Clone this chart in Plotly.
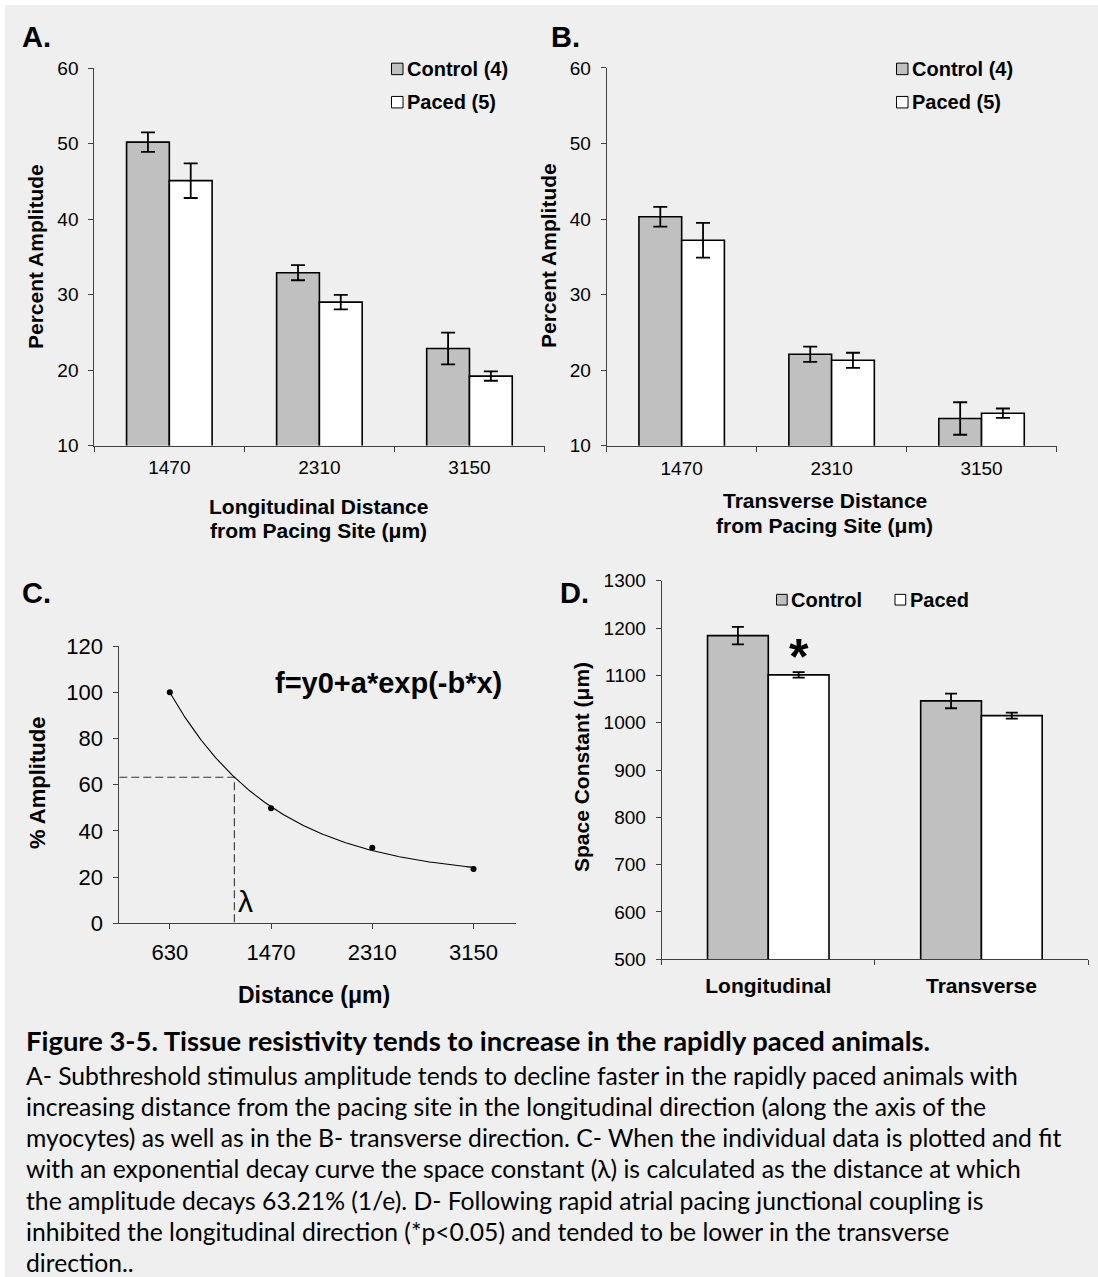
import numpy as np
import plotly.graph_objects as go

W, H = 1098, 1277

# ---- Panel A: longitudinal distance from pacing site ----
distances = ["1470", "2310", "3150"]
long_control = [50.2, 32.9, 22.85]
long_control_err = [1.3, 1.0, 2.1]
long_paced = [45.1, 29.0, 19.2]
long_paced_err = [2.3, 0.95, 0.62]

# ---- Panel B: transverse distance from pacing site ----
trans_control = [40.3, 22.1, 13.6]
trans_control_err = [1.3, 1.0, 2.15]
trans_paced = [37.2, 21.3, 14.3]
trans_paced_err = [2.3, 1.0, 0.62]

# ---- Panel C: individual decay data ----
decay_x = [630, 1470, 2310, 3150]
decay_y = [100, 49.8, 32.7, 23.5]
LAMBDA_LEVEL = 63.21

# ---- Panel D: space constants ----
directions = ["Longitudinal", "Transverse"]
space_control = [1184, 1046]
space_control_err = [18.5, 15.5]
space_paced = [1101, 1015]
space_paced_err = [6, 6.3]

GRAY = "#c0c0c0"
AXIS = "#404040"
SANS = "Liberation Sans"
CAPTION_FONT = "Lato"


def fx(p):
    return p / W


def fy(p):
    return 1 - p / H


# exponential decay fit f = y0 + a*exp(-b*x): scan b, solve y0/a by least squares
xd = np.array(decay_x, float)
yd = np.array(decay_y, float)
best = None
for b in np.linspace(1e-4, 5e-3, 9801):
    M = np.column_stack([np.ones_like(xd), np.exp(-b * xd)])
    coef, *_ = np.linalg.lstsq(M, yd, rcond=None)
    sse = float(np.sum((M @ coef - yd) ** 2))
    if best is None or sse < best[0]:
        best = (sse, b, coef)
_, b_fit, (y0_fit, a_fit) = best
lam = -np.log((LAMBDA_LEVEL - y0_fit) / a_fit) / b_fit
fit_x = np.linspace(decay_x[0], decay_x[-1], 300)
fit_y = y0_fit + a_fit * np.exp(-b_fit * fit_x)
C_XMIN, C_XMAX = 211, 3499

fig = go.Figure()


def bar_pair(cats, c_vals, c_err, p_vals, p_err, xa, ya, cap):
    for vals, err, color, name in ((c_vals, c_err, GRAY, "Control"),
                                    (p_vals, p_err, "white", "Paced")):
        fig.add_trace(go.Bar(
            x=cats, y=vals, name=name, xaxis=xa, yaxis=ya,
            marker=dict(color=color, line=dict(color="black", width=1.6)),
            error_y=dict(type="data", array=err, visible=True,
                         color="black", thickness=1.8, width=cap),
            showlegend=False,
        ))


bar_pair(distances, long_control, long_control_err, long_paced, long_paced_err, "x", "y", 7)
bar_pair(distances, trans_control, trans_control_err, trans_paced, trans_paced_err, "x2", "y2", 7)
bar_pair(directions, space_control, space_control_err, space_paced, space_paced_err, "x4", "y4", 6)

# Panel C: lambda guide lines, fitted curve and data points
fig.add_trace(go.Scatter(
    x=[C_XMIN, lam, lam], y=[LAMBDA_LEVEL, LAMBDA_LEVEL, 0],
    mode="lines", line=dict(color="#333333", width=1.1, dash="8px,4px"),
    xaxis="x3", yaxis="y3", showlegend=False, cliponaxis=False,
))
fig.add_trace(go.Scatter(
    x=fit_x, y=fit_y, mode="lines", line=dict(color="black", width=1.1),
    xaxis="x3", yaxis="y3", showlegend=False,
))
fig.add_trace(go.Scatter(
    x=decay_x, y=decay_y, mode="markers",
    marker=dict(color="black", size=6),
    xaxis="x3", yaxis="y3", showlegend=False, cliponaxis=False,
))

tick_font = dict(family=SANS, size=19, color="black")
common_axis = dict(showline=True, linecolor=AXIS, linewidth=1, ticks="outside",
                   ticklen=5, tickcolor=AXIS, tickwidth=1, showgrid=False,
                   zeroline=False, automargin=False)

fig.update_layout(
    width=W, height=H, margin=dict(l=0, r=0, t=0, b=0, autoexpand=False),
    paper_bgcolor="#efefef", plot_bgcolor="rgba(0,0,0,0)",
    barmode="group", bargap=0.43, bargroupgap=0, showlegend=False,
    xaxis=dict(domain=[fx(94.3), fx(544.5)], anchor="y", type="category",
               tickson="boundaries", tickfont=tick_font, ticklabelstandoff=5,
               **common_axis),
    yaxis=dict(domain=[fy(445.5), fy(68.2)], anchor="x", range=[10, 60], dtick=10,
               tickfont=tick_font, ticklabelstandoff=6, **common_axis),
    xaxis2=dict(domain=[fx(606.7), fx(1056.5)], anchor="y2", type="category",
                tickson="boundaries", tickfont=tick_font, ticklabelstandoff=5,
                **common_axis),
    yaxis2=dict(domain=[fy(445.7), fy(67.9)], anchor="x2", range=[10, 60], dtick=10,
                tickfont=tick_font, ticklabelstandoff=6, **common_axis),
    xaxis3=dict(domain=[fx(119.3), fx(515.6)], anchor="y3", range=[C_XMIN, C_XMAX],
                tickvals=decay_x, ticktext=[str(v) for v in decay_x],
                tickfont=dict(family=SANS, size=22, color="black"),
                ticklabelstandoff=4, **common_axis),
    yaxis3=dict(domain=[fy(923.3), fy(646)], anchor="x3", range=[0, 120], dtick=20,
                tickfont=dict(family=SANS, size=22, color="black"),
                ticklabelstandoff=6, **common_axis),
    xaxis4=dict(domain=[fx(661.7), fx(1088)], anchor="y4", type="category",
                tickson="boundaries",
                tickfont=dict(family=SANS, size=21, color="black", weight="bold"),
                ticklabelstandoff=7, **common_axis),
    yaxis4=dict(domain=[fy(959.3), fy(580.7)], anchor="x4", range=[500, 1300], dtick=100,
                tickfont=tick_font, ticklabelstandoff=6, **common_axis),
)

annotations = []


def note(text, x, y, size, bold=True, anchor="center", angle=0, family=SANS):
    annotations.append(dict(
        text=f"<b>{text}</b>" if bold else text,
        x=fx(x), y=fy(y), xref="paper", yref="paper",
        xanchor=anchor, yanchor="middle", showarrow=False, textangle=angle,
        font=dict(family=family, size=size, color="black"),
    ))


# panel letters
note("A.", 36.3, 37, 29)
note("B.", 565.3, 37, 29)
note("C.", 36.3, 593, 29)
note("D.", 574.7, 593, 29)

# axis titles
note("Percent Amplitude", 35, 257, 21, angle=-90)
note("Longitudinal Distance", 318, 507, 21)
note("from Pacing Site (μm)", 318, 531, 21)
note("Percent Amplitude", 548, 256, 21, angle=-90)
note("Transverse Distance", 825, 500, 21)
note("from Pacing Site (μm)", 825, 525, 21)
note("% Amplitude", 37, 783, 22, angle=-90)
note("Distance (μm)", 314, 995, 23)
note("Space Constant (μm)", 581, 767, 21, angle=-90)

# panel C labels
note("f=y0+a*exp(-b*x)", 388, 683, 29)
note("λ", 245, 901, 30, bold=False)

# significance marker
note("*", 799, 656.5, 50)

# legends: key squares drawn as shapes, labels as text
shapes = [
    dict(type="rect", xref="paper", yref="paper", x0=0, x1=1, y0=fy(5), y1=1,
         fillcolor="white", line=dict(width=0)),
    dict(type="rect", xref="paper", yref="paper", x0=0, x1=fx(5), y0=0, y1=1,
         fillcolor="white", line=dict(width=0)),
]


def key(x0, yc, size, color, label, text_x):
    shapes.append(dict(type="rect", xref="paper", yref="paper",
                       x0=fx(x0), x1=fx(x0 + size), y0=fy(yc + size / 2), y1=fy(yc - size / 2),
                       fillcolor=color, line=dict(color="black", width=1)))
    note(label, text_x, yc, 20, anchor="left")


key(391.5, 68.9, 11.5, GRAY, "Control (4)", 405)
key(391.5, 102.2, 11.5, "white", "Paced (5)", 405)
key(896.5, 68.9, 11.5, GRAY, "Control (4)", 910)
key(896.5, 102.2, 11.5, "white", "Paced (5)", 910)
key(776.5, 599.7, 10.7, GRAY, "Control", 789)
key(895, 599.7, 10.7, "white", "Paced", 908)

# figure caption
caption_lines = [
    "A- Subthreshold stimulus amplitude tends to decline faster in the rapidly paced animals with",
    "increasing distance from the pacing site in the longitudinal direction (along the axis of the",
    "myocytes) as well as in the B- transverse direction. C- When the individual data is plotted and fit",
    "with an exponential decay curve the space constant (λ) is calculated as the distance at which",
    "the amplitude decays 63.21% (1/e). D- Following rapid atrial pacing junctional coupling is",
    "inhibited the longitudinal direction (*p&lt;0.05) and tended to be lower in the transverse",
    "direction..",
]
note("Figure 3-5. Tissue resistivity tends to increase in the rapidly paced animals.",
     24, 1040, 27.4, anchor="left", family=CAPTION_FONT)
for i, line in enumerate(caption_lines):
    note(line, 24, 1075 + i * 31.3, 24.7, bold=False, anchor="left", family=CAPTION_FONT)

fig.update_layout(annotations=annotations, shapes=shapes)

fig.write_html("out.html", config={"displayModeBar": False})
